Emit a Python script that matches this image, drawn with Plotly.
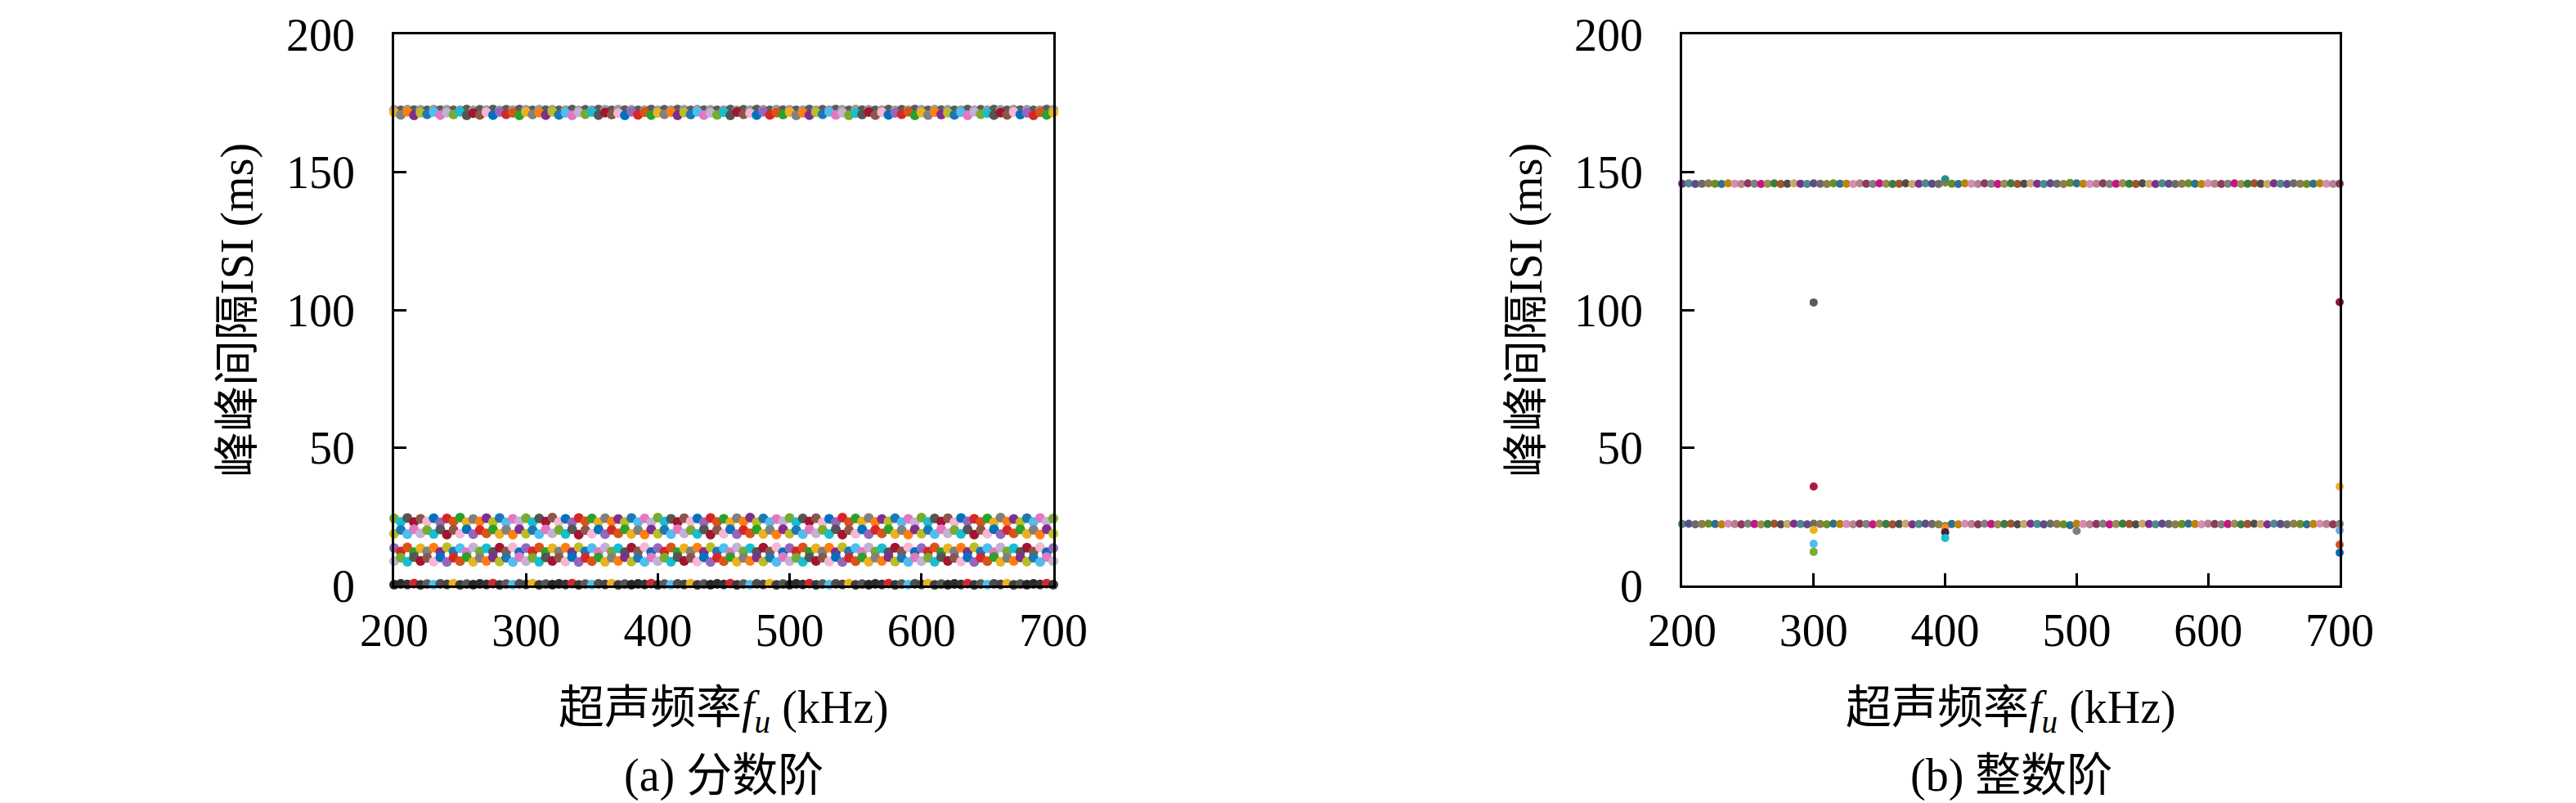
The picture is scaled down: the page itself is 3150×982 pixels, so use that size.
import plotly.graph_objects as go
from plotly.subplots import make_subplots

# Ultrasound frequency grid (kHz), one column of dots every 5 kHz
freq = list(range(200, 701, 5))

# (a) fractional order: ISI values (ms) read per frequency, one list per band
frac_top_edge = [
    172.6, 172.4, 172.7, 172.5, 172.6, 172.4, 172.7, 172.5, 172.6, 172.4,
    172.5, 172.7, 172.4, 172.6, 172.5, 172.7, 172.4, 172.6, 172.5, 172.7,
    172.6, 172.4, 172.7, 172.5, 172.6, 172.4, 172.5, 172.7, 172.4, 172.6,
    172.5, 172.7, 172.6, 172.4, 172.7, 172.5, 172.6, 172.4, 172.5, 172.7,
    172.4, 172.6, 172.5, 172.7, 172.6, 172.4, 172.7, 172.5, 172.6, 172.4,
    172.5, 172.7, 172.4, 172.6, 172.5, 172.7, 172.6, 172.4, 172.7, 172.5,
    172.6, 172.4, 172.5, 172.7, 172.4, 172.6, 172.5, 172.7, 172.6, 172.4,
    172.7, 172.5, 172.6, 172.4, 172.5, 172.7, 172.4, 172.6, 172.5, 172.7,
    172.6, 172.4, 172.7, 172.5, 172.6, 172.4, 172.5, 172.7, 172.4, 172.6,
    172.5, 172.7, 172.6, 172.4, 172.7, 172.5, 172.6, 172.4, 172.5, 172.7,
    172.6,
]
frac_top = [
    171.7, 170.8, 171.9, 170.6, 171.5, 171.0, 171.8, 170.7, 171.6, 170.9,
    171.9, 170.6, 171.4, 170.8, 171.7, 170.7, 171.8, 171.0, 171.5, 170.6,
    171.8, 170.9, 171.6, 170.7, 171.9, 170.8, 171.5, 170.6, 171.7, 171.0,
    171.8, 170.7, 171.6, 170.9, 171.4, 170.6, 171.9, 170.8, 171.7, 170.7,
    171.5, 171.0, 171.8, 170.6, 171.6, 170.9, 171.9, 170.7, 171.5, 170.8,
    171.7, 170.6, 171.8, 171.0, 171.4, 170.7, 171.9, 170.8, 171.6, 170.9,
    171.8, 170.6, 171.5, 170.7, 171.7, 171.0, 171.9, 170.8, 171.6, 170.6,
    171.4, 170.9, 171.8, 170.7, 171.7, 170.8, 171.5, 171.0, 171.9, 170.6,
    171.6, 170.7, 171.8, 170.9, 171.5, 170.8, 171.7, 170.6, 171.9, 171.0,
    171.4, 170.7, 171.6, 170.8, 171.8, 170.9, 171.5, 170.6, 171.7, 170.8,
    171.6,
]
frac_b1 = [
    24.3, 23.1, 24.5, 23.0, 24.2, 23.3, 24.4, 22.9, 24.3, 23.2,
    24.6, 23.0, 24.1, 23.2, 24.4, 23.1, 24.5, 22.9, 24.2, 23.3,
    24.4, 23.0, 24.3, 23.2, 24.6, 23.1, 24.2, 22.9, 24.5, 23.3,
    24.3, 23.0, 24.4, 23.2, 24.1, 23.1, 24.5, 23.0, 24.3, 22.9,
    24.6, 23.2, 24.2, 23.1, 24.4, 23.3, 24.3, 23.0, 24.5, 23.1,
    24.2, 22.9, 24.4, 23.2, 24.6, 23.0, 24.3, 23.1, 24.1, 23.3,
    24.5, 23.0, 24.3, 23.2, 24.4, 22.9, 24.2, 23.1, 24.6, 23.0,
    24.3, 23.2, 24.5, 23.1, 24.1, 23.3, 24.4, 23.0, 24.2, 22.9,
    24.6, 23.1, 24.3, 23.2, 24.4, 23.0, 24.5, 23.3, 24.2, 23.1,
    24.3, 22.9, 24.6, 23.2, 24.1, 23.0, 24.4, 23.1, 24.5, 23.2,
    24.3,
]
frac_b2 = [
    18.8, 20.2, 18.6, 20.4, 18.9, 20.1, 18.7, 20.3, 18.5, 20.2,
    18.8, 20.4, 18.6, 20.1, 18.9, 20.3, 18.7, 20.2, 18.5, 20.4,
    18.8, 20.1, 18.6, 20.3, 18.9, 20.2, 18.7, 20.4, 18.5, 20.1,
    18.8, 20.3, 18.6, 20.2, 18.9, 20.4, 18.7, 20.1, 18.5, 20.3,
    18.8, 20.2, 18.6, 20.4, 18.9, 20.1, 18.7, 20.3, 18.5, 20.2,
    18.8, 20.4, 18.6, 20.1, 18.9, 20.3, 18.7, 20.2, 18.5, 20.4,
    18.8, 20.1, 18.6, 20.3, 18.9, 20.2, 18.7, 20.4, 18.5, 20.1,
    18.8, 20.3, 18.6, 20.2, 18.9, 20.4, 18.7, 20.1, 18.5, 20.3,
    18.8, 20.2, 18.6, 20.4, 18.9, 20.1, 18.7, 20.3, 18.5, 20.2,
    18.8, 20.4, 18.6, 20.1, 18.9, 20.3, 18.7, 20.2, 18.5, 20.4,
    18.8,
]
frac_b3 = [
    13.6, 12.3, 13.8, 12.1, 13.5, 12.4, 13.7, 12.2, 13.9, 12.3,
    13.6, 12.1, 13.8, 12.4, 13.5, 12.2, 13.7, 12.3, 13.9, 12.1,
    13.6, 12.4, 13.8, 12.2, 13.5, 12.3, 13.7, 12.1, 13.9, 12.4,
    13.6, 12.2, 13.8, 12.3, 13.5, 12.1, 13.7, 12.4, 13.9, 12.2,
    13.6, 12.3, 13.8, 12.1, 13.5, 12.4, 13.7, 12.2, 13.9, 12.3,
    13.6, 12.1, 13.8, 12.4, 13.5, 12.2, 13.7, 12.3, 13.9, 12.1,
    13.6, 12.4, 13.8, 12.2, 13.5, 12.3, 13.7, 12.1, 13.9, 12.4,
    13.6, 12.2, 13.8, 12.3, 13.5, 12.1, 13.7, 12.4, 13.9, 12.2,
    13.6, 12.3, 13.8, 12.1, 13.5, 12.4, 13.7, 12.2, 13.9, 12.3,
    13.6, 12.1, 13.8, 12.4, 13.5, 12.2, 13.7, 12.3, 13.9, 12.1,
    13.6,
]
frac_b4 = [
    8.8, 10.1, 8.6, 10.3, 8.9, 10.0, 8.7, 10.2, 8.5, 10.1,
    8.8, 10.3, 8.6, 10.0, 8.9, 10.2, 8.7, 10.1, 8.5, 10.3,
    8.8, 10.0, 8.6, 10.2, 8.9, 10.1, 8.7, 10.3, 8.5, 10.0,
    8.8, 10.2, 8.6, 10.1, 8.9, 10.3, 8.7, 10.0, 8.5, 10.2,
    8.8, 10.1, 8.6, 10.3, 8.9, 10.0, 8.7, 10.2, 8.5, 10.1,
    8.8, 10.3, 8.6, 10.0, 8.9, 10.2, 8.7, 10.1, 8.5, 10.3,
    8.8, 10.0, 8.6, 10.2, 8.9, 10.1, 8.7, 10.3, 8.5, 10.0,
    8.8, 10.2, 8.6, 10.1, 8.9, 10.3, 8.7, 10.0, 8.5, 10.2,
    8.8, 10.1, 8.6, 10.3, 8.9, 10.0, 8.7, 10.2, 8.5, 10.1,
    8.8, 10.3, 8.6, 10.0, 8.9, 10.2, 8.7, 10.1, 8.5, 10.3,
    8.8,
]
frac_b5 = [
    0.3, 0.6, 0.4, 0.7, 0.2, 0.5, 0.3, 0.6, 0.4, 0.7,
    0.2, 0.5, 0.3, 0.6, 0.4, 0.7, 0.2, 0.5, 0.3, 0.6,
    0.4, 0.7, 0.2, 0.5, 0.3, 0.6, 0.4, 0.7, 0.2, 0.5,
    0.3, 0.6, 0.4, 0.7, 0.2, 0.5, 0.3, 0.6, 0.4, 0.7,
    0.2, 0.5, 0.3, 0.6, 0.4, 0.7, 0.2, 0.5, 0.3, 0.6,
    0.4, 0.7, 0.2, 0.5, 0.3, 0.6, 0.4, 0.7, 0.2, 0.5,
    0.3, 0.6, 0.4, 0.7, 0.2, 0.5, 0.3, 0.6, 0.4, 0.7,
    0.2, 0.5, 0.3, 0.6, 0.4, 0.7, 0.2, 0.5, 0.3, 0.6,
    0.4, 0.7, 0.2, 0.5, 0.3, 0.6, 0.4, 0.7, 0.2, 0.5,
    0.3, 0.6, 0.4, 0.7, 0.2, 0.5, 0.3, 0.6, 0.4, 0.7,
    0.3,
]

# (b) integer order: two flat bands plus a few stray ISI values
int_high = [
    145.8, 145.9, 145.7, 145.8, 145.9, 145.8, 145.7, 145.9, 145.8, 145.7,
    145.9, 145.8, 145.7, 145.8, 145.9, 145.7, 145.8, 145.9, 145.8, 145.7,
    145.9, 145.8, 145.7, 145.9, 145.8, 145.8, 145.7, 145.9, 145.8, 145.7,
    145.9, 145.8, 145.7, 145.8, 145.9, 145.7, 145.8, 145.9, 145.8, 145.7,
    146.2, 145.8, 145.7, 145.9, 145.8, 145.7, 145.9, 145.8, 145.7, 145.8,
    145.9, 145.7, 145.8, 145.9, 145.8, 145.7, 145.9, 145.8, 145.7, 146.1,
    145.9, 145.8, 145.7, 145.8, 145.9, 145.7, 145.8, 145.9, 145.8, 145.7,
    145.9, 145.8, 145.7, 145.9, 145.8, 145.7, 145.8, 145.9, 145.8, 145.7,
    145.9, 145.8, 145.7, 145.8, 145.9, 145.7, 145.8, 145.9, 145.8, 145.7,
    145.9, 145.8, 145.7, 145.9, 145.8, 145.7, 145.8, 145.9, 145.8, 145.7,
    145.8,
]
int_low = [
    22.3, 22.4, 22.2, 22.3, 22.4, 22.3, 22.2, 22.4, 22.3, 22.2,
    22.4, 22.3, 22.2, 22.3, 22.4, 22.2, 22.3, 22.4, 22.3, 22.2,
    22.4, 22.3, 22.2, 22.4, 22.3, 22.3, 22.2, 22.4, 22.3, 22.2,
    22.4, 22.3, 22.2, 22.3, 22.4, 22.2, 22.3, 22.4, 22.3, 22.2,
    21.6, 22.3, 22.2, 22.4, 22.3, 22.2, 22.4, 22.3, 22.2, 22.3,
    22.4, 22.2, 22.3, 22.4, 22.3, 22.2, 22.4, 22.3, 22.2, 21.9,
    22.4, 22.3, 22.2, 22.3, 22.4, 22.2, 22.3, 22.4, 22.3, 22.2,
    22.4, 22.3, 22.2, 22.4, 22.3, 22.2, 22.3, 22.4, 22.3, 22.2,
    22.4, 22.3, 22.2, 22.3, 22.4, 22.2, 22.3, 22.4, 22.3, 22.2,
    22.4, 22.3, 22.2, 22.4, 22.3, 22.2, 22.3, 22.4, 22.3, 22.2,
    22.3,
]
int_extra_f = [300, 300, 300, 300, 300, 400, 400, 400, 400, 500, 700, 700, 700, 700, 700]
int_extra_isi = [102.7, 35.9, 20.2, 15.1, 12.2, 147.4, 21.0, 19.3, 17.2, 19.8, 102.8, 35.9, 20.0, 14.8, 11.9]
int_extra_col = ['#5a5a5a', '#b0173f', '#edb120', '#4dbeee', '#77ac30', '#2f8f7f', '#f28e2b',
                 '#4a2040', '#17becf', '#7f7f7f', '#8b1538', '#edb120', '#6fa8dc', '#d95319', '#0072bd']

ticks_x = [200, 300, 400, 500, 600, 700]
ticks_y = [0, 50, 100, 150, 200]

# Colour cycles for the dots
bright = ['#d62728', '#edb120', '#7e2f8e', '#4dbeee', '#77ac30', '#a2142f', '#0072bd',
          '#d95319', '#808080', '#bcbd22', '#e377c2', '#17becf', '#8c564b', '#9467bd',
          '#2ca02c', '#ff7f0e', '#1f77b4', '#c5b0d5', '#555555', '#f7b6d2']
dark = ['#333333', '#4d4d4d', '#262626', '#5a5a5a', '#3d3d3d', '#d62728',
        '#444444', '#2b2b2b', '#4dbeee', '#555555', '#383838', '#edb120']
muted = ['#7e2f8e', '#808080', '#8c7b4f', '#a0522d', '#d98cb3', '#4b8b8b', '#c71585',
         '#6b8e23', '#4d4d4d', '#b5838d', '#5f4b8b', '#9a8c50', '#2f6f8f', '#c9a66b',
         '#8b3a62', '#6a6a6a', '#3a7d44', '#b8860b']


def cycle(palette, n, step, offset):
    return [palette[(i * step + offset) % len(palette)] for i in range(n)]


FONT = 'Liberation Serif, Noto Sans CJK SC, serif'
n = len(freq)

fig = make_subplots(rows=1, cols=2)

# Panel (a)
bands_a = [(frac_top_edge, ['#9a9a9a', '#5a5a5a'] * 51, 0),
           (frac_top, None, 1), (frac_b1, None, 4), (frac_b2, None, 9),
           (frac_b3, None, 13), (frac_b4, None, 17), (frac_b5, 'dark', 2)]
for vals, cols, off in bands_a:
    if cols is None:
        cols = cycle(bright, n, 7, off)
    elif cols == 'dark':
        cols = cycle(dark, n, 5, off)
    fig.add_trace(go.Scatter(x=freq, y=vals, mode='markers', cliponaxis=False,
                             marker=dict(size=12, color=cols[:n], line=dict(width=0)),
                             showlegend=False), row=1, col=1)

# Panel (b)
for vals, off in [(int_high, 0), (int_low, 5)]:
    fig.add_trace(go.Scatter(x=freq, y=vals, mode='markers', cliponaxis=False,
                             marker=dict(size=10, color=cycle(muted, n, 5, off), line=dict(width=0)),
                             showlegend=False), row=1, col=2)
fig.add_trace(go.Scatter(x=int_extra_f, y=int_extra_isi, mode='markers', cliponaxis=False,
                         marker=dict(size=10, color=int_extra_col, line=dict(width=0)),
                         showlegend=False), row=1, col=2)

W, H = 3150, 982
axis_common = dict(showline=True, linecolor='black', linewidth=2.5, mirror=True,
                   ticks='inside', ticklen=15, tickwidth=2.5, tickcolor='black',
                   showgrid=False, zeroline=False, automargin=False,
                   tickfont=dict(family=FONT, size=56, color='black'))

fig.update_xaxes(range=[200, 700], tickvals=ticks_x, ticklabelstandoff=4, **axis_common)
fig.update_yaxes(range=[0, 200], tickvals=ticks_y, ticklabelstandoff=34, **axis_common)
fig.update_layout(
    xaxis=dict(domain=[474 / W, 1280 / W]),
    xaxis2=dict(domain=[2049 / W, 2853 / W]),
    yaxis=dict(domain=[1 - 708 / H, 1 - 34 / H]),
    yaxis2=dict(domain=[1 - 708 / H, 1 - 34 / H]),
    width=W, height=H,
    margin=dict(l=0, r=0, t=0, b=0, autoexpand=False),
    paper_bgcolor='white', plot_bgcolor='white',
    font=dict(family=FONT, size=56, color='black'),
)

# Axis titles and panel captions as annotations
ytitle = '峰峰间隔ISI (ms)'
xtitle = '超声频率<i>f</i><sub><i>u</i></sub> (kHz)'
for cx, ylx, cap in [(877, 282, '(a) 分数阶'), (2451, 1858, '(b) 整数阶')]:
    fig.add_annotation(x=ylx / W, y=1 - 372 / H, xref='paper', yref='paper', text=ytitle,
                       textangle=-90, showarrow=False, xanchor='center', yanchor='middle',
                       font=dict(family=FONT, size=56))
    fig.add_annotation(x=cx / W, y=1 - 861 / H, xref='paper', yref='paper', text=xtitle,
                       showarrow=False, xanchor='center', yanchor='middle',
                       font=dict(family=FONT, size=56))
    fig.add_annotation(x=cx / W, y=1 - 940 / H, xref='paper', yref='paper', text=cap,
                       showarrow=False, xanchor='center', yanchor='middle',
                       font=dict(family=FONT, size=56))

fig.write_html('out.html')
